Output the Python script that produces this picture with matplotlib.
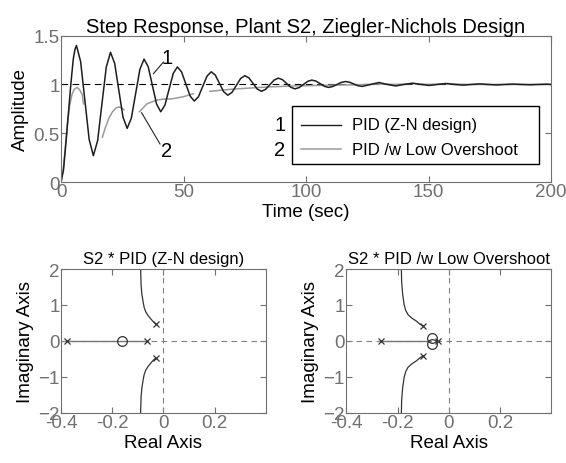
import matplotlib
matplotlib.use("Agg")
import matplotlib.pyplot as plt
import numpy as np
from matplotlib.patches import Rectangle
from matplotlib.lines import Line2D

plt.rcParams['font.family'] = ['Liberation Sans', 'DejaVu Sans']

# step response, PID Z-N design
t_zn = [0, 1, 2, 3, 4, 5, 5.7, 6.3,
        8.0, 9.75, 11.5, 13.2, 14.95, 16.7, 18.45, 20.2,
        21.9, 23.6, 25.3, 27.0, 28.7, 30.45, 32.2, 33.9,
        35.6, 37.3, 39.0, 40.7, 42.4, 44.1, 45.8, 47.5,
        49.2, 50.95, 52.7, 54.4, 56.1, 57.85, 59.6, 61.3,
        63.0, 64.7, 66.4, 68.1, 69.8, 71.55, 73.3, 75.0,
        76.7, 78.4, 80.1, 81.8, 83.5, 85.25, 87.0, 88.7,
        90.4, 92.1, 93.8, 95.5, 97.2, 98.95, 100.7, 102.4,
        104.1, 105.8, 107.5, 109.2, 110.9, 112.65, 114.4, 116.1,
        117.8, 119.5, 121.2, 122.9, 126.35, 129.8, 133.2, 136.6,
        140.05, 143.5, 146.9, 150.3, 153.75, 157.2, 160.6, 164.0,
        167.45, 170.9, 174.3, 177.7, 181.15, 184.6, 188.0, 191.4,
        194.85, 198.3, 200]
y_zn = [0, 0.12, 0.40, 0.70, 1.00, 1.26, 1.36, 1.40,
        1.235, 0.835, 0.435, 0.27, 0.425, 0.80, 1.175, 1.33,
        1.216, 0.94, 0.664, 0.55, 0.654, 0.905, 1.156, 1.26,
        1.181, 0.99, 0.799, 0.72, 0.787, 0.95, 1.113, 1.18,
        1.129, 1.005, 0.881, 0.83, 0.874, 0.98, 1.086, 1.13,
        1.095, 1.01, 0.925, 0.89, 0.919, 0.99, 1.061, 1.09,
        1.067, 1.01, 0.953, 0.93, 0.950, 0.998, 1.045, 1.065,
        1.049, 1.01, 0.971, 0.955, 0.968, 1.0, 1.032, 1.045,
        1.034, 1.008, 0.981, 0.97, 0.979, 1.0, 1.021, 1.03,
        1.023, 1.005, 0.987, 0.98, 1.0, 1.02, 1.0, 0.985,
        1.0, 1.013, 1.0, 0.99, 1.0, 1.009, 1.0, 0.993,
        1.0, 1.006, 1.0, 0.995, 1.0, 1.004, 1.0, 0.997,
        1.0, 1.003, 1.0]

# step response, PID with low overshoot (gaps where hidden in the picture)
t_lo = [0, 1, 2, 2.7, 3.5, 4.5, 5.4, 6.5, 7.5, 8.6, 9.2, np.nan,
        16.9, 18.0, 19.5, 21.0, 22.5, 23.6, 24.8, 25.7, np.nan,
        32.0, 33.5, 35.0, 37.0, 39.0, 42.0, 44.5, 47.0, 50.0, 52.0, 54.0, np.nan,
        60.8, 65, 69, 75, 85, 95, 105, 115, 125, 130, 137, 143.7, 150, 157.4,
        165, 175, 200]
y_lo = [0, 0.15, 0.42, 0.62, 0.78, 0.90, 0.95, 0.97, 0.95, 0.90, 0.80, np.nan,
        0.46, 0.55, 0.65, 0.72, 0.76, 0.77, 0.76, 0.74, np.nan,
        0.72, 0.76, 0.80, 0.82, 0.84, 0.85, 0.85, 0.86, 0.875, 0.89, 0.905, np.nan,
        0.93, 0.94, 0.95, 0.96, 0.975, 0.985, 0.99, 0.995, 1.0, 1.005, 1.0, 1.01, 1.0, 1.01,
        1.0, 1.0, 1.0]

# root locus, Z-N design
zn_pole_re = [-0.375, -0.065, -0.030, -0.030]
zn_pole_im = [0, 0, 0.47, -0.47]
zn_zero_re = [-0.16]
zn_zero_im = [0]
zn_br_re = [-0.030, -0.040, -0.050, -0.060, -0.069, -0.075, -0.079, -0.084, -0.087, -0.089]
zn_br_im = [0.47, 0.54, 0.62, 0.71, 0.81, 0.93, 1.08, 1.30, 1.54, 2.0]
zn_real = [-0.375, -0.065]

# root locus, low overshoot design
lo_pole_re = [-0.266, -0.100, -0.100, -0.044]
lo_pole_im = [0, 0.41, -0.41, 0]
lo_zero_re = [-0.066, -0.066]
lo_zero_im = [0.09, -0.09]
lo_br_re = [-0.100, -0.113, -0.126, -0.145, -0.159, -0.168, -0.174, -0.180, -0.184, -0.185]
lo_br_im = [0.41, 0.47, 0.55, 0.64, 0.73, 0.85, 1.0, 1.3, 1.65, 2.0]
lo_real = [-0.266, -0.072]

GRID = '#707070'
FS = 13.5


def style(ax):
    for s in ax.spines.values():
        s.set_color(GRID)
        s.set_linewidth(0.8)
    ax.tick_params(direction='in', length=4, colors=GRID, labelsize=FS,
                   top=True, right=True, pad=1)


fig = plt.figure(figsize=(5.66, 4.64), dpi=100)

# top: step response
ax = fig.add_axes([0.1078, 0.6056, 0.8657, 0.3153])
ax.plot([0, 200], [1, 1], color='k', lw=0.8, ls=(0, (6, 4)))
ax.plot(t_lo, y_lo, color='#9a9a9a', lw=1.1)
ax.plot(t_zn, y_zn, color='#1e1e1e', lw=1.1)
ax.set_xlim(0, 200)
ax.set_ylim(0, 1.5)
ax.set_xticks([0, 50, 100, 150, 200])
ax.set_yticks([0, 0.5, 1, 1.5])
ax.set_yticklabels(['0', '0.5', '1', '1.5'])
style(ax)
ax.set_title('Step Response, Plant S2, Ziegler-Nichols Design', fontsize=14.5, pad=3)
ax.set_xlabel('Time (sec)', fontsize=FS, labelpad=2)
ax.set_ylabel('Amplitude', fontsize=FS, labelpad=3)

# curve labels with leaders
ax.plot([37.7, 41.8], [1.11, 1.23], color='#222222', lw=0.8)
ax.text(43.4, 1.28, '1', fontsize=14.5, ha='center', va='center')
ax.plot([32.9, 40.4], [0.71, 0.39], color='#222222', lw=0.8)
ax.text(43.1, 0.32, '2', fontsize=14.5, ha='center', va='center')

# hand-made legend box
ax.add_patch(Rectangle((0.471, 0.125), 0.5055, 0.394, transform=ax.transAxes,
                       fill=True, facecolor='white', edgecolor='k', lw=1.0, zorder=5))
ax.add_line(Line2D([0.4895, 0.5715], [0.391, 0.391], transform=ax.transAxes,
                   color='#1e1e1e', lw=1.0, zorder=6))
ax.add_line(Line2D([0.4895, 0.5715], [0.223, 0.223], transform=ax.transAxes,
                   color='#9a9a9a', lw=1.1, zorder=6))
ax.text(0.594, 0.391, 'PID (Z-N design)', transform=ax.transAxes,
        fontsize=12, va='center', zorder=6)
ax.text(0.594, 0.223, 'PID /w Low Overshoot', transform=ax.transAxes,
        fontsize=12, va='center', zorder=6)
ax.text(0.4465, 0.391, '1', transform=ax.transAxes, fontsize=14.5, ha='center', va='center')
ax.text(0.4465, 0.223, '2', transform=ax.transAxes, fontsize=14.5, ha='center', va='center')


def locus(ax, title, p_re, p_im, z_re, z_im, br_re, br_im, real_seg):
    ax.axhline(0, color='#808080', lw=0.8, ls=(0, (5, 4)))
    ax.axvline(0, color='#808080', lw=0.8, ls=(0, (5, 4)))
    ax.plot(real_seg, [0, 0], color='#777777', lw=1.0)
    ax.plot(br_re, br_im, color='#333333', lw=0.9)
    ax.plot(br_re, [-v for v in br_im], color='#333333', lw=0.9)
    ax.plot(p_re, p_im, 'x', color='#333333', ms=4.5, mew=0.9)
    ax.plot(z_re, z_im, 'o', mfc='none', mec='#333333', ms=7, mew=0.9)
    ax.set_xlim(-0.4, 0.4)
    ax.set_ylim(-2, 2)
    ax.set_xticks([-0.4, -0.2, 0, 0.2])
    ax.set_xticklabels(['-0.4', '-0.2', '0', '0.2'])
    ax.set_yticks([-2, -1, 0, 1, 2])
    style(ax)
    ax.set_title(title, fontsize=12, pad=4)
    ax.set_xlabel('Real Axis', fontsize=FS, labelpad=2)
    ax.set_ylabel('Imaginary Axis', fontsize=FS, labelpad=3)


ax1 = fig.add_axes([0.1078, 0.1078, 0.3617, 0.3103])
locus(ax1, 'S2 * PID (Z-N design)', zn_pole_re, zn_pole_im, zn_zero_re, zn_zero_im,
      zn_br_re, zn_br_im, zn_real)

ax2 = fig.add_axes([0.6118, 0.1078, 0.3622, 0.3103])
locus(ax2, 'S2 * PID /w Low Overshoot', lo_pole_re, lo_pole_im, lo_zero_re, lo_zero_im,
      lo_br_re, lo_br_im, lo_real)

fig.savefig('out.png', dpi=100)
